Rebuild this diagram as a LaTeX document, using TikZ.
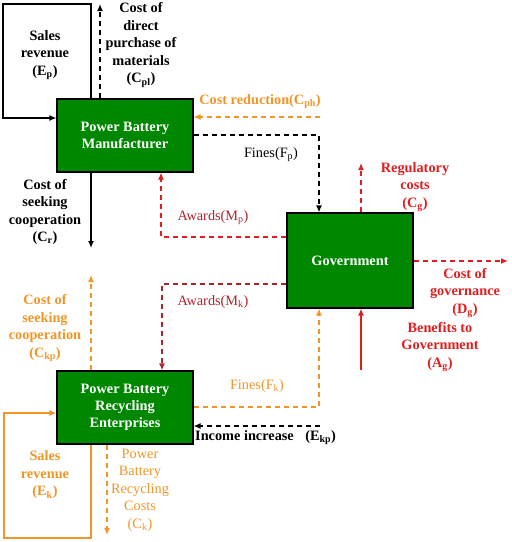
\documentclass[tikz,border=0pt]{standalone}
\usepackage{fontspec}
\setmainfont{Liberation Serif}
\usepackage{xcolor}
\usepackage{tikz}
\usetikzlibrary{positioning, arrows.meta}

\definecolor{boxgreen}{RGB}{0,135,0}
\definecolor{costorange}{RGB}{240,150,40}
\definecolor{govred}{RGB}{225,30,30}
\definecolor{awardred}{RGB}{175,35,45}

\begin{document}
\begin{tikzpicture}[x=1pt, y=-1pt,
		box/.style={
			draw=black,
			line width=1.2pt,
			fill=boxgreen,
			text=white,
			font=\fontsize{14.3}{17}\selectfont\bfseries,
			align=center,
			inner sep=0pt},
		lbl/.style={align=center, inner sep=0pt, font=\fontsize{14.3}{17.5}\selectfont},
		blbl/.style={align=center, inner sep=0pt, font=\fontsize{14.3}{17.5}\selectfont\bfseries},
		flow/.style={line width=1.3pt, -{Latex[length=7pt,width=6pt]}},
		dflow/.style={flow, dash pattern=on 5pt off 4pt}
		]
		\useasboundingbox (0,0) rectangle (512,542);
		\node [box, minimum width=136pt, minimum height=73pt] (man) at (125,135.5) {Power Battery\\Manufacturer};
		\node [box, minimum width=136pt, minimum height=73pt] (rec) at (125,407.5) {Power Battery\\Recycling\\Enterprises};
		\node [box, minimum width=126pt, minimum height=95pt] (gov) at (350,260.5) {Government};
		% bend points and free ends
		\coordinate (epA) at (91,4);
		\coordinate (epB) at (3,4);
		\coordinate (cplEnd) at (100,4);
		\coordinate (cphStart) at (320,117);
		\coordinate (fpBend) at (319,135);
		\coordinate (crEnd) at (91,248);
		\coordinate (mpBend) at (161,237);
		\coordinate (cgEnd) at (361,163);
		\coordinate (dgEnd) at (508,261);
		\coordinate (agStart) at (361,370);
		\coordinate (mkBend) at (162,284);
		\coordinate (ckpEnd) at (91,275);
		\coordinate (fkBend) at (319,407);
		\coordinate (ekpStart) at (320,426);
		\coordinate (ekA) at (91,538);
		\coordinate (ekB) at (4,538);
		\coordinate (ckEnd) at (107,535);
		% manufacturer
		\draw[flow] (man.north -| epA) -- (epA) -- (epB) |- ([yshift=17.5pt]man.west);
		\draw[dflow] (man.north -| cplEnd) -- (cplEnd);
		\draw[dflow, costorange] (cphStart) -- (cphStart -| man.east);
		\draw[dflow] (fpBend -| man.east) -- (fpBend) -- (fpBend |- gov.north);
		\draw[flow] (man.south -| crEnd) -- (crEnd);
		% government
		\draw[dflow, govred] (mpBend -| gov.west) -- (mpBend) -- (mpBend |- man.south);
		\draw[dflow, govred] (gov.north -| cgEnd) -- (cgEnd);
		\draw[dflow, govred] (gov.east |- dgEnd) -- (dgEnd);
		\draw[flow, govred] (agStart) -- (agStart |- gov.south);
		\draw[dflow, awardred] (mkBend -| gov.west) -- (mkBend) -- (mkBend |- rec.north);
		% recycling
		\draw[dflow, costorange] (rec.north -| ckpEnd) -- (ckpEnd);
		\draw[dflow, costorange] (fkBend -| rec.east) -- (fkBend) -- (fkBend |- gov.south);
		\draw[dflow] (ekpStart) -- (ekpStart -| rec.east);
		\draw[flow, costorange] (rec.south -| ekA) -- (ekA) -- (ekB) |- ([yshift=-5.5pt]rec.west);
		\draw[dflow, costorange] (rec.south -| ckEnd) -- (ckEnd);
		% labels
		\node[blbl] (ep) at (45,55) {Sales\\revenue\\(E\textsubscript{p})};
		\node[blbl] (cpl) at (141,45) {Cost of\\direct\\purchase of\\materials\\(C\textsubscript{pl})};
		\node[blbl, text=costorange] (cph) at (260,102) {Cost reduction(C\textsubscript{ph})};
		\node[lbl] (fp) at (271,155) {Fines(F\textsubscript{p})};
		\node[blbl] (cr) at (45,212) {Cost of\\seeking\\cooperation\\(C\textsubscript{r})};
		\node[lbl, text=awardred] (mp) at (213,218) {Awards(M\textsubscript{p})};
		\node[blbl, text=govred] (cg) at (415,187) {Regulatory\\costs\\(C\textsubscript{g})};
		\node[blbl, text=govred] (dg) at (465,293) {Cost of\\governance\\(D\textsubscript{g})};
		\node[blbl, text=govred] (ag) at (440,347) {Benefits to\\Government\\(A\textsubscript{g})};
		\node[lbl, text=awardred] (mk) at (213,302) {Awards(M\textsubscript{k})};
		\node[blbl, text=costorange] (ckp) at (45,328) {Cost of\\seeking\\cooperation\\(C\textsubscript{kp})};
		\node[lbl, text=costorange] (fk) at (257,386) {Fines(F\textsubscript{k})};
		\node[blbl, anchor=west] (ekp) at (195,438) {Income increase\hspace{0.8em}(E\textsubscript{kp})};
		\node[blbl, text=costorange] (ek) at (45,475) {Sales\\revenue\\(E\textsubscript{k})};
		\node[lbl, text=costorange] (ck) at (140,490) {Power\\Battery\\Recycling\\Costs\\(C\textsubscript{k})};
		\end{tikzpicture}
\end{document}
